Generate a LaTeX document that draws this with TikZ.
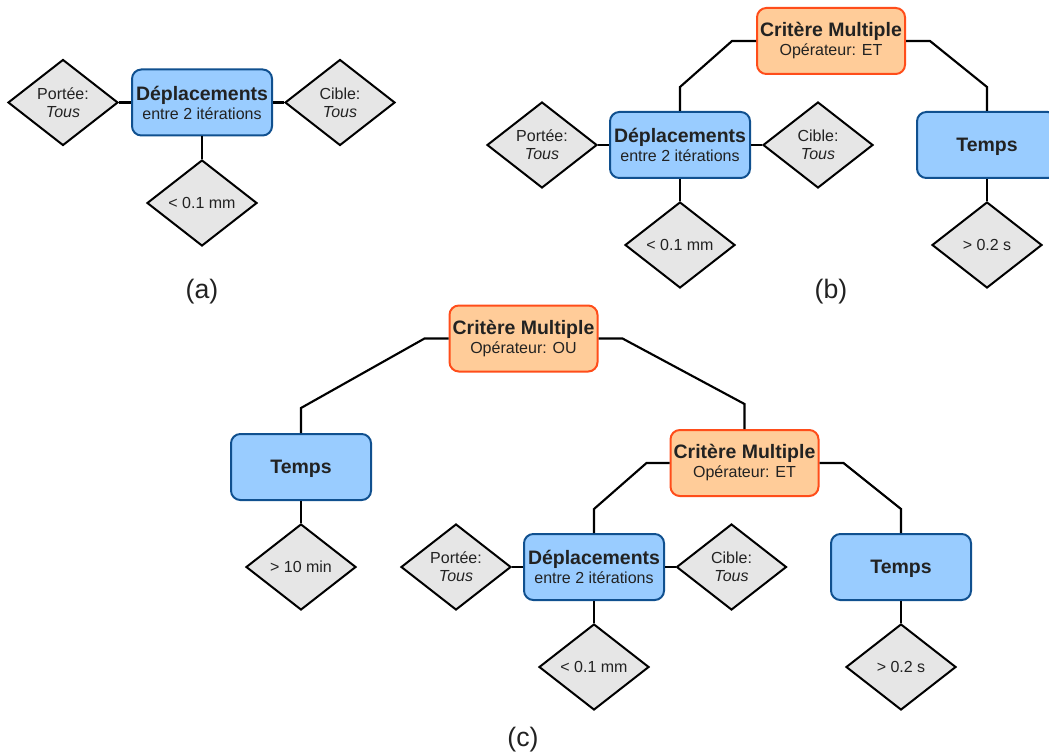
\documentclass[tikz,border=0pt]{standalone}
\usepackage{fontspec}
\setmainfont{Liberation Sans}
\usetikzlibrary{shapes.geometric,calc}
\definecolor{bluefill}{HTML}{99CCFF}
\definecolor{blueline}{HTML}{10508F}
\definecolor{orfill}{HTML}{FFCC99}
\definecolor{orline}{HTML}{FF4D1A}
\definecolor{dfill}{HTML}{E6E6E6}
\definecolor{txt}{HTML}{222222}
\newcommand\grostitre[1]{{\fontsize{14.6}{14.25}\selectfont\bfseries #1}}
\begin{document}
\begin{tikzpicture}[x=0.75pt,y=-0.75pt,
 bluebox/.style={draw=blueline, fill=bluefill, line width=1.5pt, rounded corners=7pt, minimum width=105pt, minimum height=49.5pt, inner sep=0pt, align=center, text=txt, font=\fontsize{12}{14.25}\selectfont},
 timebox/.style={bluebox, text depth=0pt},
 critbox/.style={bluebox, draw=orline, fill=orfill, minimum width=111pt},
 cond/.style={diamond, draw=black, fill=dfill, line width=1.5pt, minimum width=82.5pt, minimum height=64.5pt, inner sep=0pt, align=center, text=txt, font=\fontsize{12}{13.5}\selectfont},
 link/.style={draw=black, line width=1.6pt},
 lbl/.style={font=\fontsize{20}{24}\selectfont, text=txt}
]
\clip (0,0) rectangle (1049,756);
\fill[white] (0,0) rectangle (1049,756);
% ---------- (a)
\node[bluebox] (da) at (202,102.5) {\grostitre{Déplacements}\\entre 2 itérations};
\node[cond] (pa) at (63,102.5) {Portée:\\\textit{Tous}};
\node[cond] (ca) at (340,102.5) {Cible:\\\textit{Tous}};
\node[cond] (ma) at (202,203) {< 0.1 mm};
\draw[link] (pa.east) -- (da.west);
\draw[link] (da.east) -- (ca.west);
\draw[link] (da.south) -- (ma.north);
\node[lbl] (la) at (202,292) {(a)};
% ---------- (b)
\node[critbox] (cb) at (831,41) {\grostitre{Critère Multiple}\\Opérateur: ET};
\node[bluebox] (db) at (680,145) {\grostitre{Déplacements}\\entre 2 itérations};
\node[cond] (pb) at (542,145) {Portée:\\\textit{Tous}};
\node[cond] (cib) at (818,145) {Cible:\\\textit{Tous}};
\node[cond] (mb) at (680,245) {< 0.1 mm};
\node[timebox] (tb) at (987,145) {\grostitre{Temps}};
\node[cond] (sb) at (987,245) {> 0.2 s};
\draw[link] (cb.west) -- ++(-24,0) -- ($(db.north)+(0,-24)$) -- (db.north);
\draw[link] (cb.east) -- ++(24,0) -- ($(tb.north)+(0,-24)$) -- (tb.north);
\draw[link] (pb.east) -- (db.west);
\draw[link] (db.east) -- (cib.west);
\draw[link] (db.south) -- (mb.north);
\draw[link] (tb.south) -- (sb.north);
\node[lbl] (lb) at (831,292) {(b)};
% ---------- (c)
\node[critbox] (c1) at (523.5,338.5) {\grostitre{Critère Multiple}\\Opérateur: OU};
\node[timebox] (t1) at (301,467) {\grostitre{Temps}};
\node[cond] (m1) at (301,567) {> 10 min};
\node[critbox] (c2) at (744.5,463) {\grostitre{Critère Multiple}\\Opérateur: ET};
\node[bluebox] (d2) at (594,567) {\grostitre{Déplacements}\\entre 2 itérations};
\node[cond] (p2) at (456,567) {Portée:\\\textit{Tous}};
\node[cond] (ci2) at (731.5,567) {Cible:\\\textit{Tous}};
\node[cond] (m2) at (594,667) {< 0.1 mm};
\node[timebox] (t2) at (901,567) {\grostitre{Temps}};
\node[cond] (s2) at (901,667) {> 0.2 s};
\draw[link] (c1.west) -- ++(-24,0) -- ($(t1.north)+(0,-25)$) -- (t1.north);
\draw[link] (c1.east) -- ++(24,0) -- ($(c2.north)+(0,-25)$) -- (c2.north);
\draw[link] (c2.west) -- ++(-23,0) -- ($(d2.north)+(0,-24)$) -- (d2.north);
\draw[link] (c2.east) -- ++(24,0) -- ($(t2.north)+(0,-24)$) -- (t2.north);
\draw[link] (t1.south) -- (m1.north);
\draw[link] (p2.east) -- (d2.west);
\draw[link] (d2.east) -- (ci2.west);
\draw[link] (d2.south) -- (m2.north);
\draw[link] (t2.south) -- (s2.north);
\node[lbl] (lc) at (523,740) {(c)};
\end{tikzpicture}
\end{document}
